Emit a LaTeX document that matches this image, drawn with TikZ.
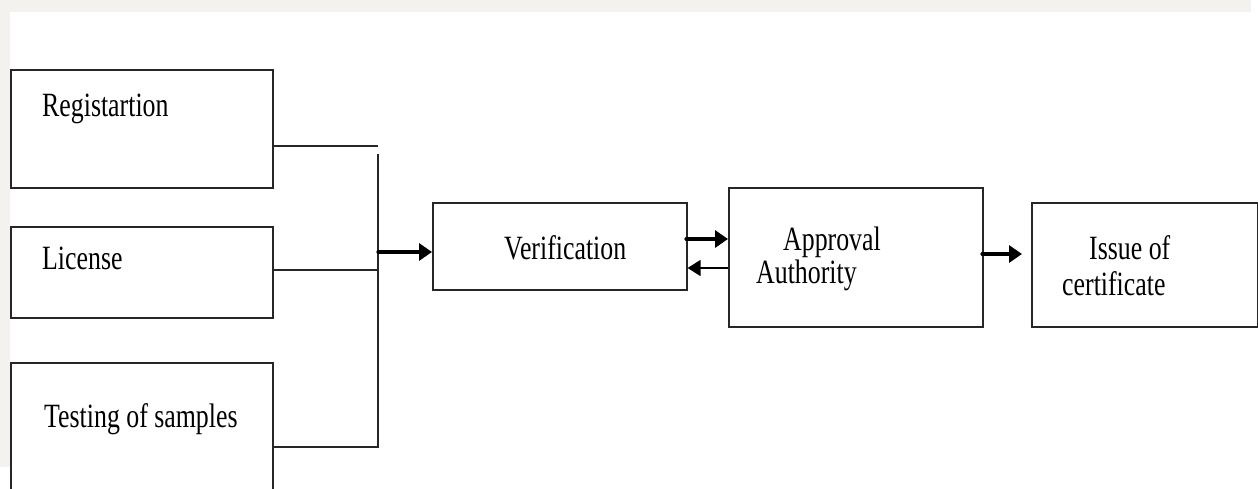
\documentclass[tikz,border=0pt]{standalone}
\usepackage{fontspec}
\setmainfont[FakeStretch=0.76]{Liberation Serif}
\usetikzlibrary{arrows.meta}
\definecolor{bggray}{HTML}{F3F2EE}
\tikzset{
  box/.style={draw=black!85, line width=1.6pt, fill=white, inner sep=0pt, anchor=north west},
  lbl/.style={anchor=base west, inner sep=0pt, font=\fontsize{34}{40}\selectfont},
  conn/.style={draw=black!85, line width=1.5pt},
  thickarrow/.style={draw=black, line width=3.2pt, line cap=round, -{Triangle[length=13pt,width=17pt]}},
  thinarrow/.style={draw=black, line width=1.6pt, -{Triangle[length=13pt,width=16pt]}}
}
\begin{document}
\begin{tikzpicture}[x=1pt,y=-1pt]
\useasboundingbox (0,0) rectangle (1258,488);
\clip (0,0) rectangle (1258,488);
\fill[white] (0,0) rectangle (1258,488);
\fill[bggray] (0,0) rectangle (1251,12);
\fill[bggray] (0,0) rectangle (10,467);
% boxes
\node[box, minimum width=262pt, minimum height=118pt] (reg) at (10,69) {};
\node[box, minimum width=262pt, minimum height=91pt] (lic) at (10,226) {};
\node[box, minimum width=262pt, minimum height=150pt] (test) at (10,362) {};
\node[box, minimum width=254pt, minimum height=87pt] (ver) at (432,202) {};
\node[box, minimum width=254pt, minimum height=139pt] (app) at (728,187) {};
\node[box, minimum width=226pt, minimum height=124pt] (iss) at (1031,202) {};
% labels
\node[lbl] (tReg) at (42,116) {Registartion};
\node[lbl] (tLic) at (42,269) {License};
\node[lbl] (tTest) at (44,427) {Testing of samples};
\node[lbl] (tVer) at (504,259) {Verification};
\node[lbl] (tApp1) at (783,250) {Approval};
\node[lbl] (tApp2) at (756,283) {Authority};
\node[lbl] (tIss1) at (1089,259) {Issue of};
\node[lbl] (tIss2) at (1062,295) {certificate};
% junction
\coordinate (r1) at (378,146);
\coordinate (btop) at (378,154);
\coordinate (l1) at (378,270);
\coordinate (bbot) at (378,447);
\coordinate (j) at (378,252);
\draw[conn] (reg.east |- r1) -- (r1);
\draw[conn] (lic.east |- l1) -- (l1);
\draw[conn] (test.east |- bbot) -- (bbot) -- (btop);
\draw[thickarrow] (j) -- (ver.west |- j);
% verification <-> approval
\coordinate (va) at (686,239);
\coordinate (av) at (728,268);
\draw[thickarrow] (va) -- (app.west |- va);
\draw[thinarrow] (av) -- (ver.east |- av);
% approval -> issue
\coordinate (ai) at (982,254);
\draw[thickarrow] (ai) -- (1022,254);
\end{tikzpicture}
\end{document}
